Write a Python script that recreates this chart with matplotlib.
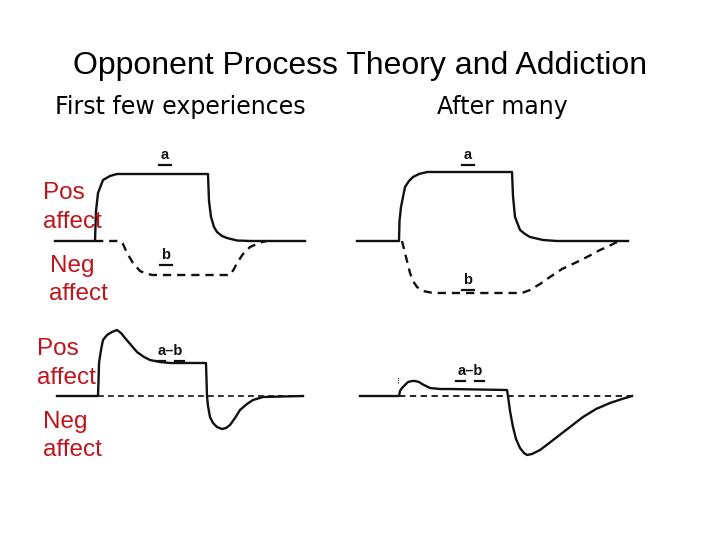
import matplotlib.pyplot as plt

# time / affect values (1 unit ~ 1 px)
# top-left: first few experiences, a and b processes
t_a1 = [0, 40, 40.5, 41, 43, 48, 55, 62, 153, 154, 156, 159, 162, 167, 172, 182, 195, 250]
a1 = [0, 0, 15, 30, 48, 61, 65, 67, 67, 40, 24, 14, 9, 5, 3, 0.5, 0, 0]
t_b1 = [40, 65, 68, 72, 78, 85, 92, 98, 175, 179, 182, 188, 195, 202, 207, 212]
b1 = [0, 0, -3, -12, -22, -30, -33, -34, -34, -28, -22, -13, -6, -3, -1, 0]

# top-right: after many
t_a2 = [0, 42, 42.5, 44, 48, 52, 56, 62, 70, 155, 156, 158, 163, 168, 173, 186, 200, 271]
a2 = [0, 0, 20, 34, 54, 60, 64, 67, 69, 69, 45, 24, 11, 7, 4, 1, 0, 0]
t_b2 = [45, 48, 53, 56, 60, 66, 76, 165, 173, 183, 193, 205, 220, 232, 243, 252, 260, 264]
b2 = [0, -12, -32, -40, -46, -50, -52, -52, -49, -43, -36, -28, -21, -15, -9, -5, -1, 0]

# bottom-left: a-b, first few
t_d1 = [0, 41, 41.5, 42, 44, 46, 50, 55, 60, 64, 68, 74, 80, 87, 93, 103, 113, 149,
        150, 151, 153, 156, 160, 165, 169, 173, 178, 183, 190, 196, 206, 246]
d1 = [0, 0, 15, 33, 46, 56, 61, 64, 66, 63, 58, 51, 44, 39, 36, 34, 33, 33,
      0, -10, -21, -27, -31, -33, -32, -29, -22, -14, -8, -4, -1, 0]

# bottom-right: a-b, after many
t_d2 = [0, 39, 40, 42, 45, 48, 52, 55, 59, 62, 66, 70, 80, 90, 147, 148, 150, 153, 156,
        160, 164, 167, 172, 180, 188, 197, 210, 223, 236, 250, 262, 272]
d2 = [0, 0, 5, 8, 11, 14, 15, 15, 14, 12, 10, 8, 7, 7, 6, 0, -15, -31, -43,
      -52, -57, -59, -58, -54, -48, -41, -31, -21, -13, -7, -3, 0]

title = "Opponent Process Theory and Addiction"
col_titles = ["First few experiences", "After many"]
red = "#c0141c"
ink = "#111111"

fig = plt.figure(figsize=(7.2, 5.4), dpi=100)


def fx(px):
    return px / 720


def fy(py):
    return 1 - py / 540


def panel(x0, x1, y0, y1, t0, base):
    # axes placed in pixels, data scaled 1 unit = 1 px
    ax = fig.add_axes([fx(x0), fy(y1), (x1 - x0) / 720, (y1 - y0) / 540])
    ax.set_xlim(x0 - t0, x1 - t0)
    ax.set_ylim(base - y1, base - y0)
    ax.axis("off")
    return ax


def ulabel(ax, x, y, s):
    ax.text(x, y, s, ha="center", va="bottom", fontsize=10.5, color=ink,
            fontweight="bold", family="Liberation Sans")
    ax.plot([x - 6, x + 6], [y - 3, y - 3], color=ink, lw=1.6)


dash = (0, (3.5, 2.5))

# top-left
ax = panel(45, 312, 146, 312, 55, 241)
ax.plot(t_a1, a1, color=ink, lw=1.7)
ax.plot(t_b1, b1, color=ink, lw=1.7, linestyle=dash)
ulabel(ax, 110, 79, "a")
ulabel(ax, 111, -21, "b")

# top-right
ax = panel(355, 653, 146, 312, 357, 241)
ax.plot(t_a2, a2, color=ink, lw=1.7)
ax.plot(t_b2, b2, color=ink, lw=1.7, linestyle=dash)
ulabel(ax, 111, 79, "a")
ulabel(ax, 111, -46, "b")

# bottom-left
ax = panel(45, 320, 316, 460, 57, 396)
ax.plot([41, 246], [0, 0], color=ink, lw=1.2, linestyle=dash)
ax.plot(t_d1, d1, color=ink, lw=1.7)
ax.text(113, 38, "a\u2013b", ha="center", va="bottom", fontsize=10.5, color=ink,
        fontweight="bold", family="Liberation Sans")
ax.plot([99, 108], [35, 35], color=ink, lw=1.6)
ax.plot([118, 127], [35, 35], color=ink, lw=1.6)

# bottom-right
ax = panel(355, 653, 316, 460, 360, 396)
ax.plot([39, 272], [0, 0], color=ink, lw=1.3, linestyle=dash)
ax.plot(t_d2, d2, color=ink, lw=1.7)
ax.plot([38, 38], [13, 19], color=ink, lw=0.8, linestyle=(0, (1, 1)))
ax.text(110, 18, "a\u2013b", ha="center", va="bottom", fontsize=10.5, color=ink,
        fontweight="bold", family="Liberation Sans")
ax.plot([96, 105], [15, 15], color=ink, lw=1.6)
ax.plot([115, 124], [15, 15], color=ink, lw=1.6)

# text on the slide
fig.text(fx(360), fy(66), title, ha="center", va="center", fontsize=23,
         family="Liberation Sans", color="black")
fig.text(fx(55), fy(107), col_titles[0], ha="left", va="center", fontsize=17,
         family="DejaVu Sans", color="black")
fig.text(fx(437), fy(107), col_titles[1], ha="left", va="center", fontsize=17,
         family="DejaVu Sans", color="black")

side = [(43, 193, "Pos"), (43, 222, "affect"), (50, 266, "Neg"), (49, 294, "affect"),
        (37, 349, "Pos"), (37, 378, "affect"), (43, 422, "Neg"), (43, 450, "affect")]
for px, py, s in side:
    fig.text(fx(px), fy(py), s, ha="left", va="center", fontsize=17.5,
             family="Liberation Sans", color=red)

fig.savefig("out.png", dpi=100)
